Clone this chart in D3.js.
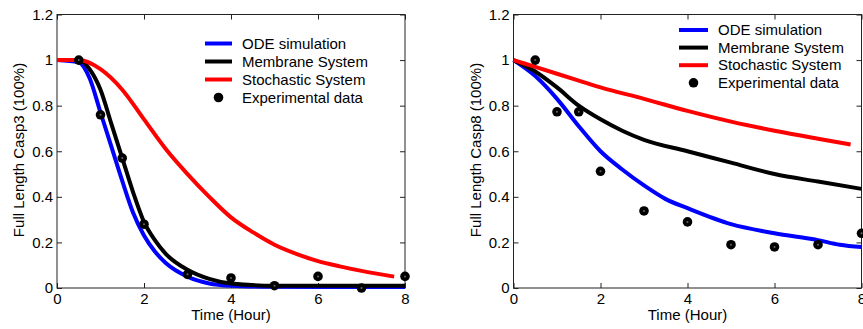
<!DOCTYPE html>
<html>
<head>
<meta charset="utf-8">
<script src="https://cdn.jsdelivr.net/npm/d3@7"></script>
<style>
body { margin: 0; background: #fff; }
svg { display: block; }
text { font-family: "Liberation Sans", Arial, sans-serif; font-size: 15px; fill: #000; }
</style>
</head>
<body>
<div id="chart"></div>
<script>
// ---- data ----
var xTicks = [0, 2, 4, 6, 8];
var yTicks = [0, 0.2, 0.4, 0.6, 0.8, 1, 1.2];
var seriesNames = ["ODE simulation", "Membrane System", "Stochastic System", "Experimental data"];
var seriesColors = ["#0000ff", "#000000", "#ff0000"];

var expTime = [0.5, 1, 1.5, 2, 3, 4, 5, 6, 7, 8];

// Casp3 panel
var casp3OdeT = [0, 0.5, 0.75, 1, 1.25, 1.5, 1.75, 2, 2.25, 2.5, 3, 3.5, 4, 5, 6, 7, 8];
var casp3OdeV = [1, 0.99, 0.92, 0.77, 0.62, 0.47, 0.33, 0.23, 0.16, 0.11, 0.05, 0.02, 0.01, 0.005, 0.004, 0.004, 0.004];
var casp3MemT = [0, 0.5, 0.75, 1, 1.25, 1.5, 1.75, 2, 2.25, 2.5, 3, 3.5, 4, 5, 6, 7, 8];
var casp3MemV = [1, 1, 0.96, 0.87, 0.72, 0.57, 0.42, 0.29, 0.21, 0.15, 0.08, 0.04, 0.02, 0.01, 0.01, 0.01, 0.01];
var casp3StoT = [0, 0.5, 1, 1.5, 2, 2.5, 3, 3.5, 4, 4.5, 5, 5.5, 6, 6.5, 7, 7.75];
var casp3StoV = [1, 1, 0.96, 0.87, 0.74, 0.61, 0.5, 0.4, 0.31, 0.245, 0.19, 0.15, 0.118, 0.095, 0.075, 0.05];
var casp3Exp = [1, 0.76, 0.57, 0.28, 0.06, 0.044, 0.01, 0.051, 0, 0.051];

// Casp8 panel
var casp8OdeT = [0, 0.5, 1, 1.5, 2, 2.5, 3, 3.5, 4, 5, 6, 7, 7.5, 8];
var casp8OdeV = [1, 0.93, 0.83, 0.71, 0.6, 0.52, 0.45, 0.39, 0.35, 0.28, 0.24, 0.21, 0.19, 0.18];
var casp8MemT = [0, 0.5, 1, 1.5, 2, 2.5, 3, 4, 5, 6, 7, 8];
var casp8MemV = [1, 0.95, 0.88, 0.8, 0.74, 0.69, 0.65, 0.6, 0.55, 0.5, 0.467, 0.435];
var casp8StoT = [0, 0.5, 1, 1.5, 2, 3, 4, 5, 6, 7, 7.75];
var casp8StoV = [1, 0.97, 0.94, 0.91, 0.88, 0.83, 0.777, 0.73, 0.69, 0.655, 0.63];
var casp8Exp = [1, 0.773, 0.773, 0.512, 0.338, 0.29, 0.19, 0.18, 0.19, 0.24];

var W = 863, H = 329;

var svg = d3.select("#chart").append("svg")
    .attr("width", W)
    .attr("height", H);

function zip(ts, vs) {
    return ts.map(function(t, i) { return {t: t, v: vs[i]}; });
}

function drawPanel(opt) {
    var x = d3.scaleLinear().domain([0, 8]).range([opt.left, opt.right]);
    var y = d3.scaleLinear().domain([0, 1.2]).range([288, 14.5]);

    var g = svg.append("g");

    // box with inward ticks on all sides
    g.append("rect")
        .attr("x", x(0)).attr("y", y(1.2))
        .attr("width", x(8) - x(0)).attr("height", y(0) - y(1.2))
        .attr("fill", "none").attr("stroke", "#222").attr("stroke-width", 1);

    var tl = 5;
    g.append("g").attr("transform", "translate(0," + y(0) + ")")
        .call(d3.axisBottom(x).tickValues(xTicks).tickSize(-tl).tickPadding(5))
        .call(function(a) { a.select(".domain").remove(); });
    g.append("g").attr("transform", "translate(0," + y(1.2) + ")")
        .call(d3.axisTop(x).tickValues(xTicks).tickSize(-tl).tickFormat(""))
        .call(function(a) { a.select(".domain").remove(); });
    g.append("g").attr("transform", "translate(" + x(0) + ",0)")
        .call(d3.axisLeft(y).tickValues(yTicks).tickSize(-tl).tickPadding(4).tickFormat(d3.format("~g")))
        .call(function(a) { a.select(".domain").remove(); });
    g.append("g").attr("transform", "translate(" + x(8) + ",0)")
        .call(d3.axisRight(y).tickValues(yTicks).tickSize(-tl).tickFormat(""))
        .call(function(a) { a.select(".domain").remove(); });

    g.selectAll(".tick line").attr("stroke", "#222");
    g.selectAll(".tick text")
        .style("font-family", "'Liberation Sans', Arial, sans-serif")
        .style("font-size", "15px")
        .attr("fill", "#000");

    // axis titles
    g.append("text")
        .attr("x", (x(0) + x(8)) / 2).attr("y", 320)
        .attr("text-anchor", "middle")
        .text("Time (Hour)");
    g.append("text")
        .attr("transform", "translate(" + opt.yLabelX + ",150) rotate(-90)")
        .attr("text-anchor", "middle")
        .text(opt.yLabel);

    var line = d3.line()
        .x(function(d) { return x(d.t); })
        .y(function(d) { return y(d.v); })
        .curve(d3.curveMonotoneX);

    opt.series.forEach(function(s, i) {
        g.append("path")
            .datum(s)
            .attr("d", line)
            .attr("fill", "none")
            .attr("stroke", seriesColors[i])
            .attr("stroke-width", 4);
    });

    var pts = zip(expTime, opt.exp);
    g.selectAll(".dot").data(pts).enter().append("circle")
        .attr("cx", function(d) { return x(d.t); })
        .attr("cy", function(d) { return y(d.v); })
        .attr("r", 4.8)
        .attr("fill", "#000");
    g.selectAll(".dotc").data(pts).enter().append("circle")
        .attr("cx", function(d) { return x(d.t); })
        .attr("cy", function(d) { return y(d.v); })
        .attr("r", 1)
        .attr("fill", "#666");

    // legend
    var lg = g.append("g");
    seriesNames.forEach(function(name, i) {
        var ly = opt.legY + i * opt.legStep;
        if (i < 3) {
            lg.append("line")
                .attr("x1", opt.legX).attr("x2", opt.legX + opt.legLen)
                .attr("y1", ly).attr("y2", ly)
                .attr("stroke", seriesColors[i]).attr("stroke-width", 4);
        } else {
            lg.append("circle")
                .attr("cx", opt.legX + opt.legLen / 2).attr("cy", ly)
                .attr("r", 4.8).attr("fill", "#000");
        }
        lg.append("text")
            .attr("x", opt.legX + opt.legLen + 10).attr("y", ly)
            .attr("dy", "0.35em")
            .text(name);
    });
}

drawPanel({
    left: 57, right: 405,
    yLabel: "Full Length Casp3 (100%)", yLabelX: 24,
    series: [zip(casp3OdeT, casp3OdeV), zip(casp3MemT, casp3MemV), zip(casp3StoT, casp3StoV)],
    exp: casp3Exp,
    legX: 205, legLen: 27, legY: 43.5, legStep: 18
});

drawPanel({
    left: 513.5, right: 861.5,
    yLabel: "Full Length Casp8 (100%)", yLabelX: 481,
    series: [zip(casp8OdeT, casp8OdeV), zip(casp8MemT, casp8MemV), zip(casp8StoT, casp8StoV)],
    exp: casp8Exp,
    legX: 679, legLen: 29, legY: 30, legStep: 17.6
});
</script>
</body>
</html>
